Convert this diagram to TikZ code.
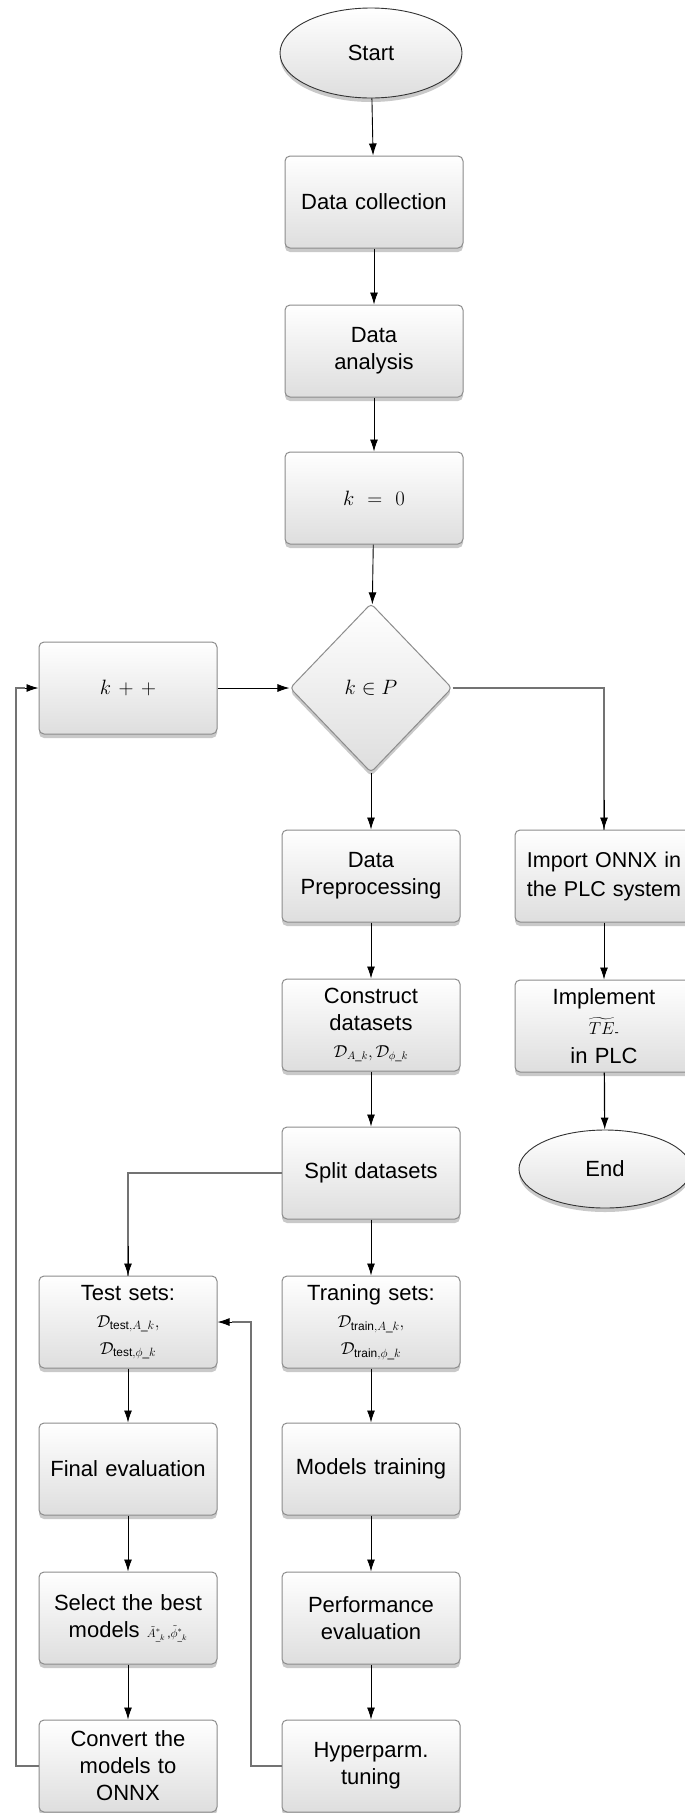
\documentclass[tikz,border=0pt]{standalone}
\usepackage{amsmath}
\usepackage{fontspec}
\setmainfont{Liberation Sans}
\usetikzlibrary{shapes.geometric,arrows.meta,shadows}
\begin{document}
\begin{tikzpicture}[x=1pt,y=-1pt,
  base/.style={top color=white, bottom color=black!13, inner sep=2pt, align=center,
    font=\fontsize{22}{27}\selectfont,
    drop shadow={shadow xshift=0pt, shadow yshift=-4pt, opacity=0.35, fill=black!60}},
  box/.style={base, rectangle, rounded corners=5pt, draw=black!45, line width=1pt,
    minimum width=178pt, minimum height=92pt, text width=172pt},
  term/.style={base, ellipse, draw=black!80, line width=0.9pt, minimum width=182pt, minimum height=90pt},
  cond/.style={base, diamond, aspect=0.96, draw=black!45, line width=1pt, rounded corners=4pt,
    minimum width=162pt, minimum height=169pt, inner sep=0pt},
  arr/.style={-{Latex[length=12pt,width=8pt]}, line width=0.9pt, black},
  garr/.style={-{Latex[length=12pt,width=8pt]}, line width=1.2pt, draw=black!55, color=black},
  gline/.style={line width=1.2pt, draw=black!55}]
\useasboundingbox (0,0) rectangle (685,1813);
\fill[white] (0,0) rectangle (685,1813);

\node[term] (start) at (371,53) {Start};
\node[box] (dc) at (374,202) {Data collection};
\node[box] (da) at (374,351) {Data\\analysis};
\node[box] (k0) at (374,498) {$k=0$};
\node[cond] (dia) at (371,688) {$k\in P$};
\node[box] (kpp) at (128,688) {$k++$};
\node[box] (prep) at (371,876) {Data\\Preprocessing};
\node[box, font=\fontsize{21.5}{27}\selectfont] (imp) at (604,876) {Import ONNX in\\[2pt]the PLC system};
\node[box] (cons) at (371,1025) {Construct\\datasets\\{\fontsize{16}{18}\selectfont$\mathcal{D}_{A\_k},\mathcal{D}_{\phi\_k}$}};
\node[box] (impl) at (604,1026) {Implement\\[3pt]{\fontsize{18}{20}\selectfont$\widetilde{TE}_{\text{-}}$}\\[2pt]in PLC};
\node[term, minimum width=172pt, minimum height=78pt] (end) at (605,1169) {End};
\node[box] (split) at (371,1173) {Split datasets};
\node[box] (test) at (128,1322) {Test sets:\\{\fontsize{17}{18}\selectfont$\mathcal{D}_{\mathrm{test},A\_k},$}\\{\fontsize{17}{18}\selectfont$\mathcal{D}_{\mathrm{test},\phi\_k}$}};
\node[box] (train) at (371,1322) {Traning sets:\\{\fontsize{17}{18}\selectfont$\mathcal{D}_{\mathrm{train},A\_k},$}\\{\fontsize{17}{18}\selectfont$\mathcal{D}_{\mathrm{train},\phi\_k}$}};
\node[box] (final) at (128,1469) {Final evaluation};
\node[box] (models) at (371,1469) {Models training};
\node[box] (select) at (128,1618) {Select the best\\models {\fontsize{12}{13}\selectfont$\tilde{A}^*_{\_k}$\,,$\tilde{\phi}^*_{\_k}$}};
\node[box] (perf) at (371,1618) {Performance\\evaluation};
\node[box] (conv) at (128,1766) {Convert the\\models to\\ONNX};
\node[box] (hyper) at (371,1766) {Hyperparm.\\tuning};

\coordinate (cl) at (16,1766);
\coordinate (hl) at (251,1766);

\draw[arr] (start) -- (dc);
\draw[arr] (dc) -- (da);
\draw[arr] (da) -- (k0);
\draw[arr] (k0) -- (dia);
\draw[arr] (kpp) -- (dia);
\draw[gline] (dia.east) -| (imp.north);
\draw[arr] ([yshift=30pt]imp.north) -- (imp.north);
\draw[arr] (dia) -- (prep);
\draw[arr] (prep) -- (cons);
\draw[arr] (cons) -- (split);
\draw[arr] (imp) -- (impl);
\draw[garr] (impl) -- (end);
\draw[gline] (split.west) -| (test.north);
\draw[arr] ([yshift=30pt]test.north) -- (test.north);
\draw[arr] (split) -- (train);
\draw[arr] (train) -- (models);
\draw[arr] (models) -- (perf);
\draw[arr] (perf) -- (hyper);
\draw[arr] (test) -- (final);
\draw[arr] (final) -- (select);
\draw[arr] (select) -- (conv);
\draw[gline] (conv.west) -- (cl) |- ([xshift=-14pt]kpp.west);
\draw[arr] ([xshift=-14pt]kpp.west) -- (kpp.west);
\draw[gline] (hyper.west) -- (hl) |- ([xshift=14pt]test.east);
\draw[arr] ([xshift=14pt]test.east) -- (test.east);
\end{tikzpicture}
\end{document}
